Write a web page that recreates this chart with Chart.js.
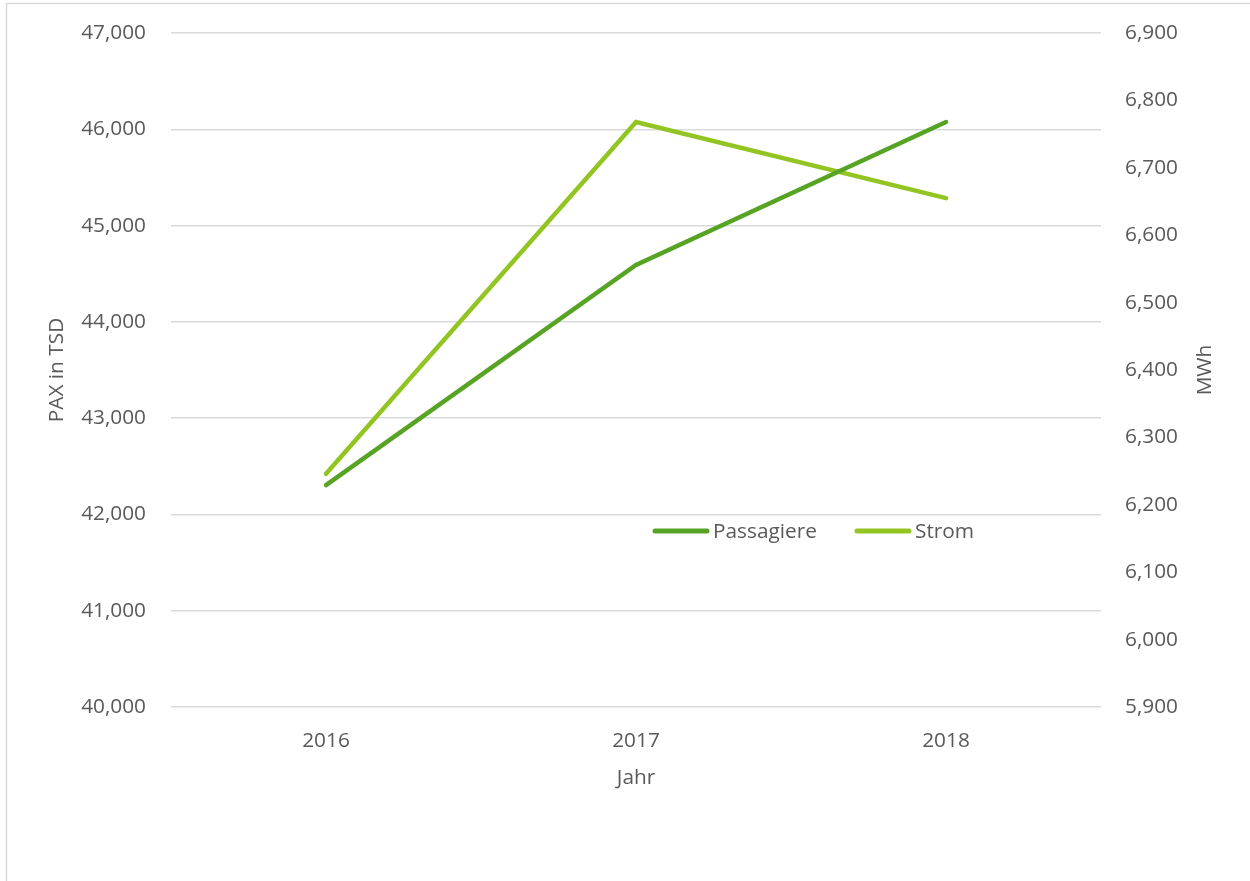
<!DOCTYPE html>
<html>
<head>
<meta charset="utf-8">
<script src="https://cdn.jsdelivr.net/npm/chart.js@4.4.1/dist/chart.umd.min.js"></script>
<style>
  html, body { margin: 0; padding: 0; background: #fff; }
  #wrap { position: relative; width: 1250px; height: 881px; }
</style>
</head>
<body>
<div id="wrap"><canvas id="c" width="1250" height="881"></canvas></div>
<script>
const categories = ['2016', '2017', '2018'];
const passagiere = [42305, 44591, 46075];
const strom = [6246, 6768, 6655];
const seriesNames = ['Passagiere', 'Strom'];
const leftTicks = { min: 40000, max: 47000, step: 1000 };
const rightTicks = { min: 5900, max: 6900, step: 100 };
const axisTitles = { left: 'PAX in TSD', right: 'MWh', x: 'Jahr' };

const FONT = '"Open Sans", "Liberation Sans", sans-serif';
const FS = 20.8;
const TXT = '#595959';
const C_PAX = '#57a424';
const C_STROM = '#93c522';

const fmt = v => Number(v).toLocaleString('en-US');

const frame = {
  id: 'frame',
  beforeDraw(chart) {
    const ctx = chart.ctx;
    ctx.save();
    ctx.strokeStyle = '#d9d9d9';
    ctx.lineWidth = 1.5;
    ctx.strokeRect(6.5, 3.5, 1260, 900);
    ctx.restore();
  },
  afterDraw(chart) {
    const ctx = chart.ctx;
    const ca = chart.chartArea;
    ctx.save();
    ctx.fillStyle = TXT;
    ctx.font = FS + 'px ' + FONT;
    ctx.textAlign = 'center';
    ctx.textBaseline = 'middle';
    ctx.translate(1205, (ca.top + ca.bottom) / 2);
    ctx.rotate(-Math.PI / 2);
    ctx.fillText(axisTitles.right, 0, 0);
    ctx.restore();

    ctx.save();
    const y = 531;
    const items = [
      { x: 655, color: C_PAX, label: seriesNames[0] },
      { x: 857, color: C_STROM, label: seriesNames[1] }
    ];
    ctx.font = FS + 'px ' + FONT;
    ctx.textBaseline = 'middle';
    ctx.textAlign = 'left';
    items.forEach(it => {
      ctx.strokeStyle = it.color;
      ctx.lineWidth = 5;
      ctx.lineCap = 'round';
      ctx.beginPath();
      ctx.moveTo(it.x, y);
      ctx.lineTo(it.x + 52, y);
      ctx.stroke();
      ctx.fillStyle = TXT;
      ctx.fillText(it.label, it.x + 58, y + 1);
    });
    ctx.restore();
  }
};

const noLabelPad = s => { s.paddingTop = 0; s.paddingBottom = 0; };

new Chart(document.getElementById('c'), {
  type: 'line',
  data: {
    labels: categories,
    datasets: [
      {
        label: seriesNames[0], data: passagiere, yAxisID: 'y',
        borderColor: C_PAX, backgroundColor: C_PAX, borderWidth: 4.5,
        borderCapStyle: 'round', pointRadius: 0, tension: 0, fill: false
      },
      {
        label: seriesNames[1], data: strom, yAxisID: 'y1',
        borderColor: C_STROM, backgroundColor: C_STROM, borderWidth: 4.5,
        borderCapStyle: 'round', pointRadius: 0, tension: 0, fill: false
      }
    ]
  },
  options: {
    responsive: false,
    animation: false,
    devicePixelRatio: 1,
    layout: { padding: { top: 33, left: 0, right: 0, bottom: 0 } },
    plugins: { legend: { display: false }, tooltip: { enabled: false } },
    scales: {
      x: {
        offset: true,
        grid: { display: false, drawTicks: false },
        border: { display: false },
        ticks: { color: TXT, font: { family: FONT, size: FS }, padding: 22, maxRotation: 0 },
        title: { display: true, text: axisTitles.x, color: TXT, font: { family: FONT, size: FS }, padding: { top: 0, bottom: 90 } },
        afterFit(s) { s.height = 174; s.paddingLeft = 0; s.paddingRight = 0; }
      },
      y: {
        position: 'left',
        min: leftTicks.min, max: leftTicks.max,
        grid: { color: '#d9d9d9', lineWidth: 1.5, drawTicks: false },
        border: { display: false },
        ticks: { stepSize: leftTicks.step, color: TXT, font: { family: FONT, size: FS }, padding: 25, callback: v => fmt(v) },
        title: { display: true, text: axisTitles.left, color: TXT, font: { family: FONT, size: FS }, padding: { top: 45, bottom: 0 } },
        afterFit(s) { s.width = 171; noLabelPad(s); }
      },
      y1: {
        position: 'right',
        min: rightTicks.min, max: rightTicks.max,
        grid: { display: false, drawTicks: false },
        border: { display: false },
        ticks: { stepSize: rightTicks.step, color: TXT, font: { family: FONT, size: FS }, padding: 24, callback: v => fmt(v) },
        afterFit(s) { s.width = 149; noLabelPad(s); }
      }
    }
  },
  plugins: [frame]
});
</script>
</body>
</html>
